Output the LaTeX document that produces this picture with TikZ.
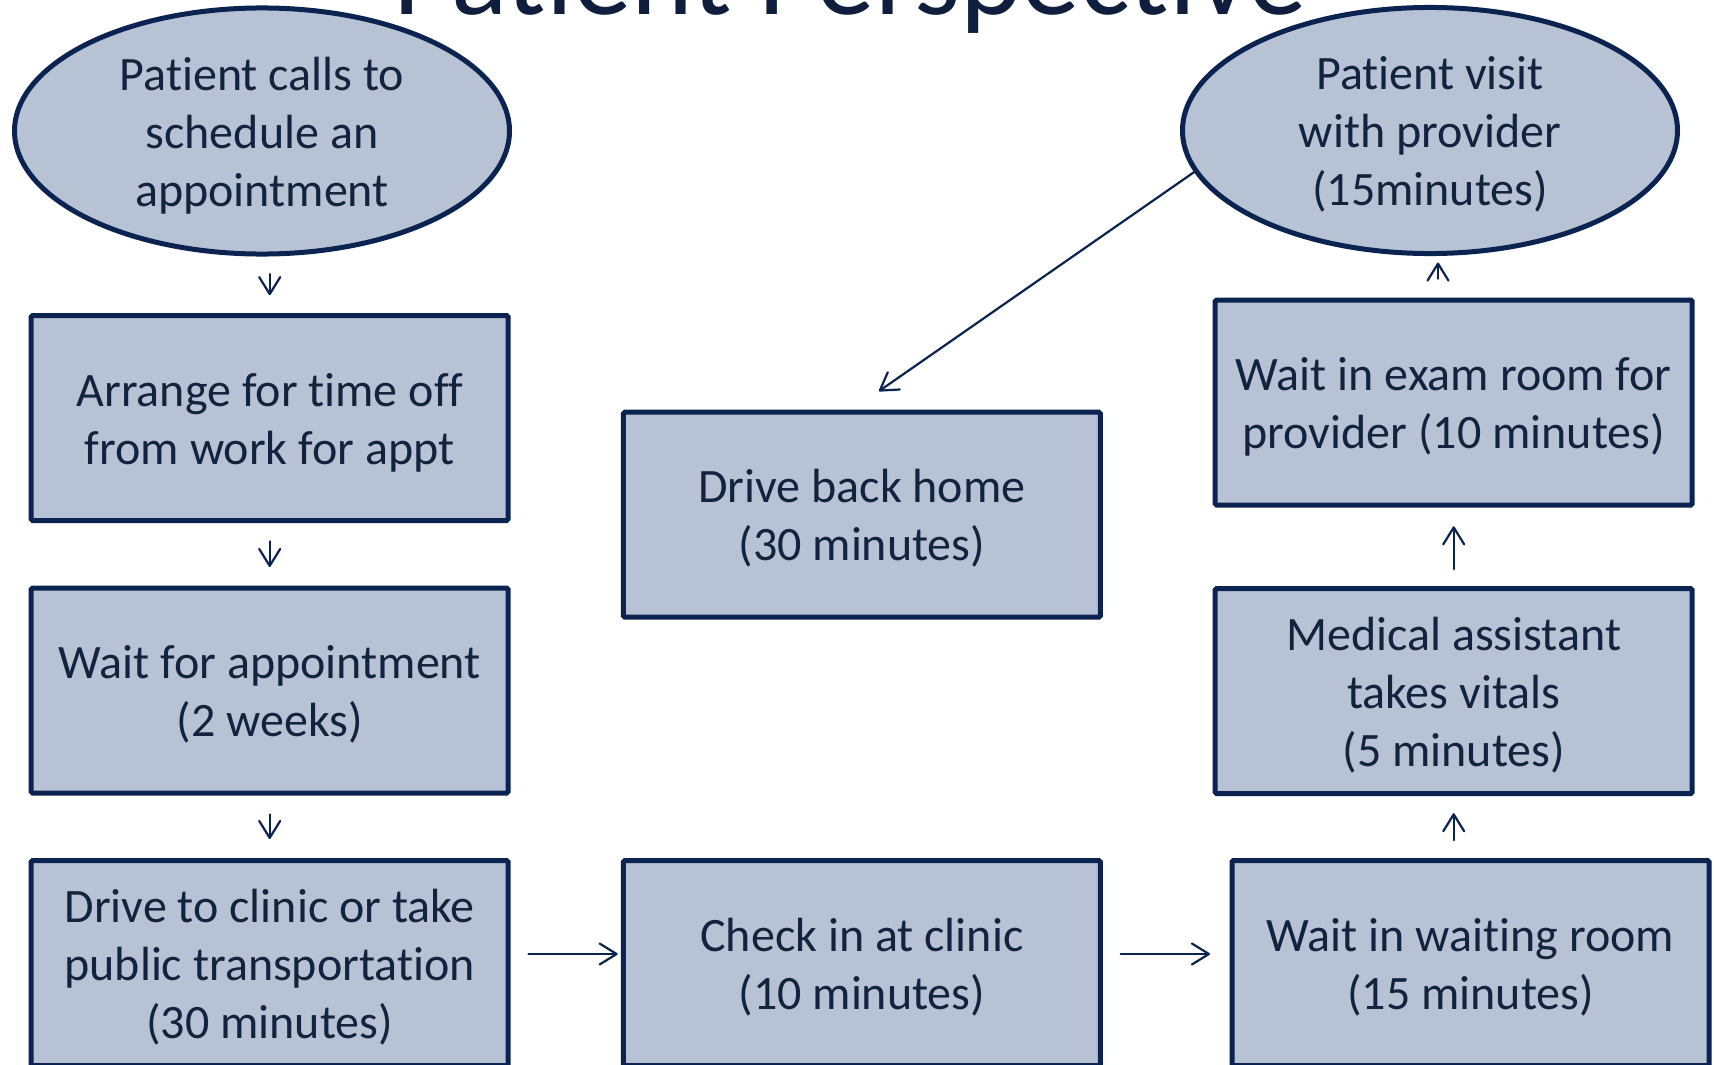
\documentclass[tikz,border=0pt]{standalone}
\usepackage{fontspec}
\setmainfont{Carlito}[Ligatures={NoCommon}]
\usetikzlibrary{shapes.geometric,arrows.meta}
\definecolor{boxfill}{HTML}{B7C3D4}
\definecolor{boxline}{HTML}{0B2350}
\definecolor{txt}{HTML}{13233F}
\definecolor{titlecol}{HTML}{0F1E3C}
\newcommand{\ctext}[1]{\raisebox{-5.5pt}[\height][\depth]{\begin{tabular}{@{}c@{}}#1\end{tabular}}}
\begin{document}
\begin{tikzpicture}[x=1pt,y=-1pt,
  stepbox/.style={draw=boxline, fill=boxfill, line width=5pt, rounded corners=1.5pt,
    minimum width=477pt, minimum height=205pt, inner sep=0pt,
    text=txt, font=\fontsize{48}{58}\selectfont},
  oval/.style={ellipse, draw=boxline, fill=boxfill, line width=5pt, inner sep=0pt,
    minimum width=495pt, minimum height=237pt,
    text=txt, font=\fontsize{48}{58}\selectfont},
  arr/.style={draw=boxline, line width=2.2pt, line cap=round,
    -{Straight Barb[length=17pt,width=21pt,round]}}]
\useasboundingbox (0,0) rectangle (1714,1065);
\clip (0,0) rectangle (1714,1065);
\fill[white] (0,0) rectangle (1714,1065);

\node[anchor=base, text=titlecol, font=\fontsize{117.5}{117.5}\selectfont] (title) at (850,15) {Patient Perspective};

\node[oval] (e1) at (262,131) {\ctext{Patient calls to\\schedule an\\appointment}};
\node[oval] (e2) at (1430,130.5) {\ctext{Patient visit\\with provider\\(15minutes)}};

\node[stepbox] (arrange) at (269.7,418) {\ctext{Arrange for time off\\from work for appt}};
\node[stepbox] (wait) at (269.7,690.5) {\ctext{Wait for appointment\\(2 weeks)}};
\node[stepbox] (drive) at (269.7,963) {\ctext{Drive to clinic or take\\public transportation\\(30 minutes)}};
\node[stepbox] (back) at (861.9,514.7) {\ctext{Drive back home\\(30 minutes)}};
\node[stepbox] (check) at (861.9,963) {\ctext{Check in at clinic\\(10 minutes)}};
\node[stepbox] (exam) at (1453.7,402.5) {\ctext{Wait in exam room for\\provider (10 minutes)}};
\node[stepbox] (medical) at (1453.7,691) {\ctext{Medical assistant\\takes vitals\\(5 minutes)}};
\node[stepbox] (waiting) at (1470.5,963) {\ctext{Wait in waiting room\\(15 minutes)}};

\draw[arr, shorten <=17.5pt, shorten >=17.8pt] (arrange.north |- e1.south) -- (arrange.north);
\draw[arr, shorten <=18.5pt, shorten >=18.5pt] (arrange.south) -- (wait.north);
\draw[arr, shorten <=19pt, shorten >=19pt] (wait.south) -- (drive.north);
\draw[arr, shorten <=17.8pt, shorten >=3.2pt] ([yshift=9pt]drive.east) -- ([yshift=9pt]check.west);
\draw[arr, shorten <=17.8pt, shorten >=19.5pt] ([yshift=9pt]check.east) -- ([yshift=9pt]waiting.west);
\draw[arr, shorten <=17.8pt, shorten >=17.2pt] (medical.south |- waiting.north) -- (medical.south);
\draw[arr, shorten <=16.8pt, shorten >=18.8pt] (medical.north) -- (exam.south);
\draw[arr, shorten <=18.8pt, shorten >=6.5pt] ([xshift=-15.7pt]exam.north) -- ([xshift=-15.7pt]exam.north |- e2.south);
\draw[arr] (e2.190) -- ([xshift=17pt,yshift=18.5pt]back.north);
\end{tikzpicture}
\end{document}
